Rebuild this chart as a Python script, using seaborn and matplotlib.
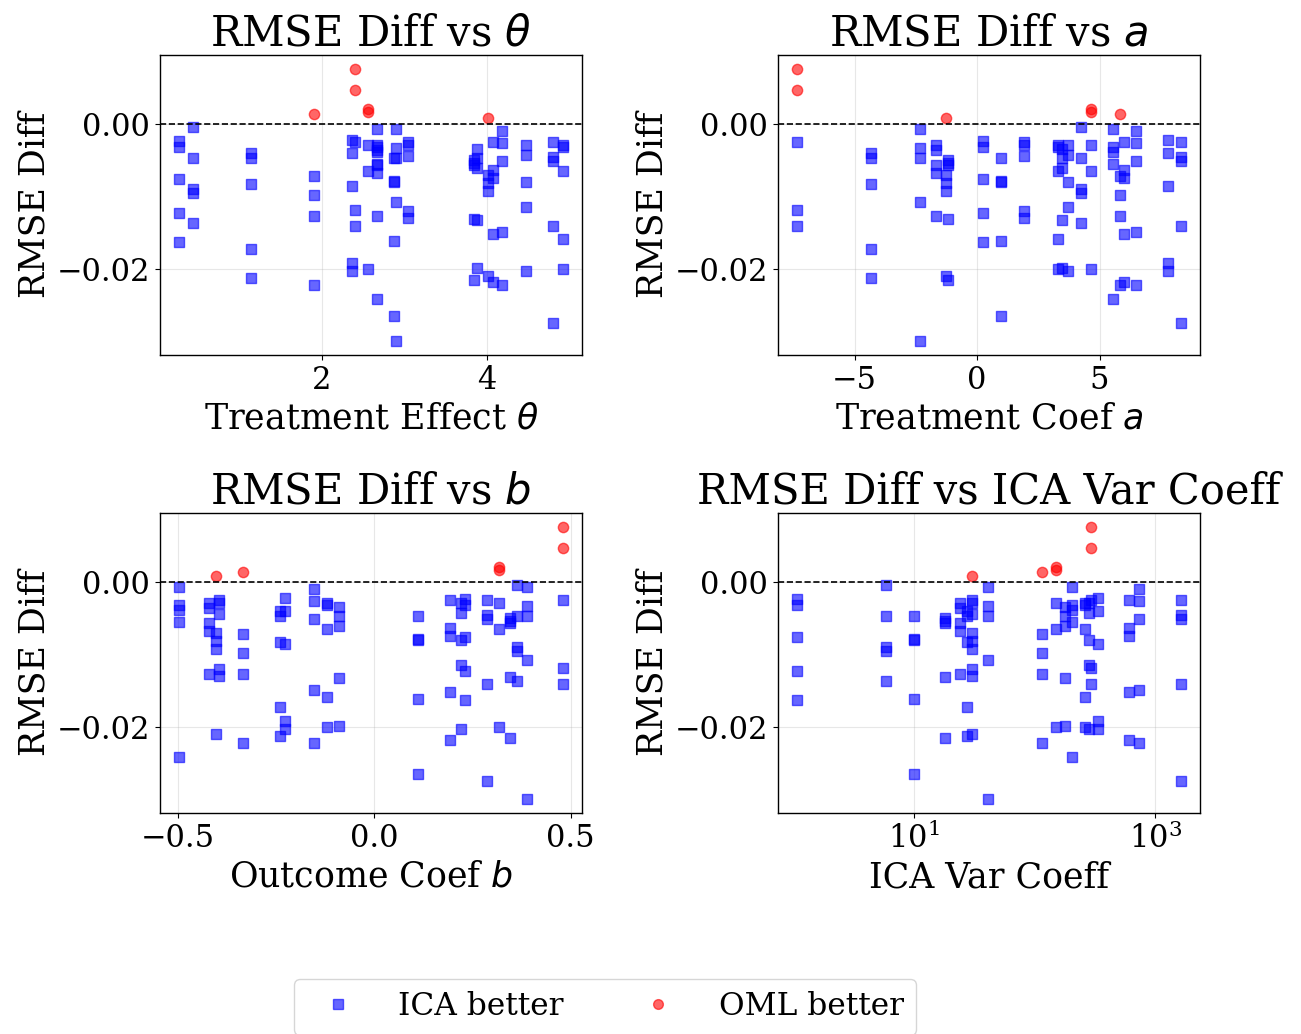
import numpy as np
import pandas as pd
import matplotlib
matplotlib.use("Agg")
import matplotlib.pyplot as plt
import matplotlib.ticker as mticker
import seaborn as sns

# Parameter configurations (20 settings, 5 repetitions each)
theta_vals = [2.404, 1.143, 2.897, 2.873, 4.008, 3.838, 2.663, 2.663, 0.275, 3.046,
              4.473, 0.440, 2.554, 4.182, 2.368, 4.800, 4.073, 1.907, 3.883, 4.917]
a_vals = [-7.35, -4.32, -2.318, 0.995, -1.255, -1.186, -1.664, 5.537, 0.245, 1.909,
          3.723, 4.227, 4.650, 6.478, 7.787, 8.319, 6.014, 5.837, 3.450, 3.287]
b_vals = [0.480, -0.239, 0.389, 0.112, -0.402, 0.345, -0.419, -0.496, 0.230, -0.395,
          0.220, 0.363, 0.317, -0.153, -0.227, 0.287, 0.192, -0.334, -0.090, -0.119]
ica_vals = [296, 27.7, 41.0, 10.1, 30.3, 18.3, 24.2, 204, 1.087, 30.6,
            284, 5.86, 150, 733, 333, 1623, 610, 116, 180, 261]
rmse_diffs = [
    [0.00761, 0.00468, -0.00248, -0.01188, -0.01413],
    [-0.00394, -0.00463, -0.00826, -0.01720, -0.02128],
    [-0.00064, -0.00335, -0.00472, -0.01069, -0.02995],
    [-0.00472, -0.00780, -0.00798, -0.01606, -0.02651],
    [0.00087, -0.00702, -0.00817, -0.00927, -0.02092],
    [-0.00495, -0.00541, -0.00564, -0.01307, -0.02147],
    [-0.00289, -0.00358, -0.00564, -0.00670, -0.01266],
    [-0.00064, -0.00312, -0.00381, -0.00555, -0.02408],
    [-0.00234, -0.00312, -0.00757, -0.01234, -0.01633],
    [-0.00252, -0.00289, -0.00440, -0.01197, -0.01298],
    [-0.00289, -0.00427, -0.00794, -0.01151, -0.02028],
    [-0.00037, -0.00472, -0.00899, -0.00945, -0.01362],
    [0.00211, 0.00165, -0.00289, -0.00642, -0.02005],
    [-0.00096, -0.00266, -0.00505, -0.01482, -0.02225],
    [-0.00220, -0.00404, -0.00862, -0.01922, -0.02028],
    [-0.00248, -0.00459, -0.00509, -0.01413, -0.02743],
    [-0.00243, -0.00633, -0.00739, -0.01514, -0.02183],
    [0.00142, -0.00720, -0.00977, -0.01275, -0.02216],
    [-0.00349, -0.00472, -0.00610, -0.01330, -0.01986],
    [-0.00289, -0.00321, -0.00642, -0.01592, -0.01995],
]

rows = []
for i in range(len(theta_vals)):
    for d in rmse_diffs[i]:
        rows.append({"theta": theta_vals[i], "a": a_vals[i], "b": b_vals[i],
                     "ica": ica_vals[i], "diff": d})
df = pd.DataFrame(rows)
df["group"] = np.where(df["diff"] > 0, "OML better", "ICA better")

sns.set_style("ticks")
plt.rcParams["font.family"] = ["DejaVu Serif"]
plt.rcParams["mathtext.fontset"] = "dejavusans"
for k in ["text.color", "axes.labelcolor", "xtick.color", "ytick.color"]:
    plt.rcParams[k] = "black"

fig = plt.figure(figsize=(13.01, 10.34), dpi=100)
W, H = 1301, 1034
def pos(l, t, r, b):
    return [l / W, 1 - b / H, (r - l) / W, (b - t) / H]

panels = [
    (pos(160, 55, 582, 355), "theta", r"RMSE Diff vs $\theta$", r"Treatment Effect $\theta$", False),
    (pos(778, 55, 1200, 355), "a", r"RMSE Diff vs $a$", r"Treatment Coef $a$", False),
    (pos(160, 513, 582, 813), "b", r"RMSE Diff vs $b$", r"Outcome Coef $b$", False),
    (pos(778, 513, 1200, 813), "ica", "RMSE Diff vs ICA Var Coeff", "ICA Var Coeff", True),
]

ica_df = df[df["group"] == "ICA better"]
oml_df = df[df["group"] == "OML better"]

for rect, col, title, xlabel, logx in panels:
    ax = fig.add_axes(rect)
    sns.scatterplot(data=ica_df, x=col, y="diff", marker="s", color="blue",
                    edgecolor="blue", linewidth=1, alpha=0.6, s=55, ax=ax,
                    label="ICA better", legend=False)
    sns.scatterplot(data=oml_df, x=col, y="diff", marker="o", color="red",
                    edgecolor="red", linewidth=1, alpha=0.6, s=55, ax=ax,
                    label="OML better", legend=False)
    ax.axhline(0, color="black", linestyle="--", linewidth=1.2)
    if logx:
        ax.set_xscale("log")
        ax.xaxis.set_major_locator(mticker.LogLocator(base=10, subs=(1.0,), numticks=3))
        ax.xaxis.set_minor_locator(mticker.NullLocator())
    ax.grid(True, color="#b0b0b0", alpha=0.3)
    ax.set_title(title, fontsize=30)
    ax.set_xlabel(xlabel, fontsize=25)
    ax.set_ylabel("RMSE Diff", fontsize=25)
    ax.tick_params(labelsize=22)
    for sp in ax.spines.values():
        sp.set_color("black")
        sp.set_linewidth(1.0)

handles = [
    plt.Line2D([], [], marker="s", linestyle="", color="blue", alpha=0.6,
               markersize=7, markeredgecolor="blue"),
    plt.Line2D([], [], marker="o", linestyle="", color="red", alpha=0.6,
               markersize=7, markeredgecolor="red"),
]
fig.legend(handles, ["ICA better", "OML better"], loc="lower center",
           bbox_to_anchor=(605 / W, -0.016), ncol=2, fontsize=22.5,
           handletextpad=0.95, columnspacing=2.0, frameon=True)

fig.savefig("out.png", dpi=100)
